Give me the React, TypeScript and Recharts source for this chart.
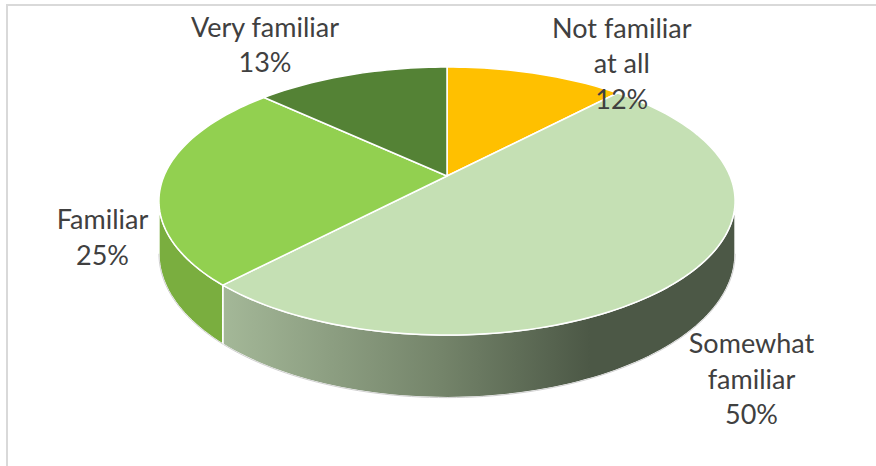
import { PieChart, Pie } from 'recharts';

const categories = ['Not familiar at all', 'Somewhat familiar', 'Familiar', 'Very familiar'];
const shares = [12, 50, 25, 13];

const topColors = ['#FFC000', '#C5E0B4', '#92D050', '#548235'];
const wallColors = ['#C99700', 'url(#wallSomewhat)', '#7AAE3F', '#3F6428'];

// where the first line of each label sits, relative to the rim point at mid angle
const labelNudge = [
  [86, -36],
  [68, 76],
  [-60, 49],
  [-86, -38],
];

const data = categories.map((name, i) => ({ name, value: shares[i] }));

// fake 3D: perspective tilt of the pie plane
const PERSP = 0.1866;
const TILT = 0.457;
const DEPTH = 0.18;
const WALL_FROM = -169.25;
const WALL_TO = -10.75;

const project = (cx: number, cy: number, R: number, deg: number) => {
  const rad = (deg * Math.PI) / 180;
  const u = Math.cos(rad);
  const w = Math.sin(rad);
  const d = 1 + PERSP * w;
  return { x: cx + (R * u) / d, y: cy - (R * TILT * w) / d, d };
};

const arcPoints = (cx: number, cy: number, R: number, a1: number, a2: number, drop = false) => {
  const n = Math.max(2, Math.ceil(Math.abs(a2 - a1) / 1.5) + 1);
  const pts: string[] = [];
  for (let i = 0; i < n; i++) {
    const a = a1 + ((a2 - a1) * i) / (n - 1);
    const p = project(cx, cy, R, a);
    const y = drop ? p.y + (R * DEPTH) / p.d : p.y;
    pts.push(`${p.x.toFixed(2)},${y.toFixed(2)}`);
  }
  return pts;
};

const Slice3D = (props: any) => {
  const { cx, cy, outerRadius, startAngle, endAngle, index } = props;
  const lo = Math.min(startAngle, endAngle);
  const hi = Math.max(startAngle, endAngle);
  const walls: [number, number][] = [];
  for (const k of [-360, 0, 360]) {
    const a = Math.max(lo + k, WALL_FROM);
    const b = Math.min(hi + k, WALL_TO);
    if (b > a) walls.push([a, b]);
  }
  const top = arcPoints(cx, cy, outerRadius, startAngle, endAngle);
  return (
    <g>
      <defs>
        <linearGradient id="wallSomewhat" gradientUnits="userSpaceOnUse" x1={218} y1={0} x2={590} y2={0}>
          <stop offset="0" stopColor="#A5B999" />
          <stop offset="0.6" stopColor="#74846A" />
          <stop offset="1" stopColor="#4C5846" />
        </linearGradient>
      </defs>
      {walls.map(([a, b], j) => {
        const upper = arcPoints(cx, cy, outerRadius, a, b);
        const lower = arcPoints(cx, cy, outerRadius, a, b, true).reverse();
        return (
          <g key={j}>
            <path
              d={`M${upper.join('L')}L${lower.join('L')}Z`}
              fill={wallColors[index]}
              stroke="#ffffff"
              strokeWidth={1.5}
            />
            <path d={`M${lower.join('L')}`} fill="none" stroke="#D0D0D0" strokeWidth={1} />
          </g>
        );
      })}
      <path
        d={`M${cx},${cy}L${top.join('L')}Z`}
        fill={topColors[index]}
        stroke="#ffffff"
        strokeWidth={1.5}
        strokeLinejoin="round"
      />
    </g>
  );
};

const wrap = (text: string, max: number) => {
  const rows: string[] = [];
  let cur = '';
  text.split(' ').forEach((word) => {
    const next = cur ? `${cur} ${word}` : word;
    if (next.length > max && cur) {
      rows.push(cur);
      cur = word;
    } else {
      cur = next;
    }
  });
  rows.push(cur);
  return rows;
};

const renderLabel = (props: any) => {
  const { cx, cy, midAngle, outerRadius, index } = props;
  const p = project(cx, cy, outerRadius, midAngle);
  const [dx, dy] = labelNudge[index];
  const rows = [...wrap(categories[index], 13), `${shares[index]}%`];
  return (
    <text
      x={p.x + dx}
      y={p.y + dy}
      textAnchor="middle"
      fill="#404040"
      fontSize={27}
      fontFamily="Lato, 'Open Sans', sans-serif"
    >
      {rows.map((r, i) => (
        <tspan key={i} x={p.x + dx} dy={i === 0 ? 0 : 35.5}>
          {r}
        </tspan>
      ))}
    </text>
  );
};

export default function App() {
  return (
    <div
      style={{
        position: 'absolute',
        left: 0,
        top: 0,
        width: 876,
        height: 466,
        background: '#ffffff',
        overflow: 'hidden',
      }}
    >
      <div
        style={{
          position: 'absolute',
          left: 6,
          top: 4,
          width: 900,
          height: 500,
          borderLeft: '2px solid #D9D9D9',
          borderTop: '2px solid #D9D9D9',
        }}
      />
      <div style={{ position: 'absolute', left: 0, top: 0 }}>
        <PieChart width={876} height={466} margin={{ top: 0, right: 0, bottom: 0, left: 0 }}>
          <Pie
            data={data}
            dataKey="value"
            nameKey="name"
            cx={447}
            cy={176}
            outerRadius={283}
            startAngle={90}
            endAngle={-270}
            stroke="none"
            shape={Slice3D}
            label={renderLabel}
            labelLine={false}
            isAnimationActive={false}
          />
        </PieChart>
      </div>
    </div>
  );
}
